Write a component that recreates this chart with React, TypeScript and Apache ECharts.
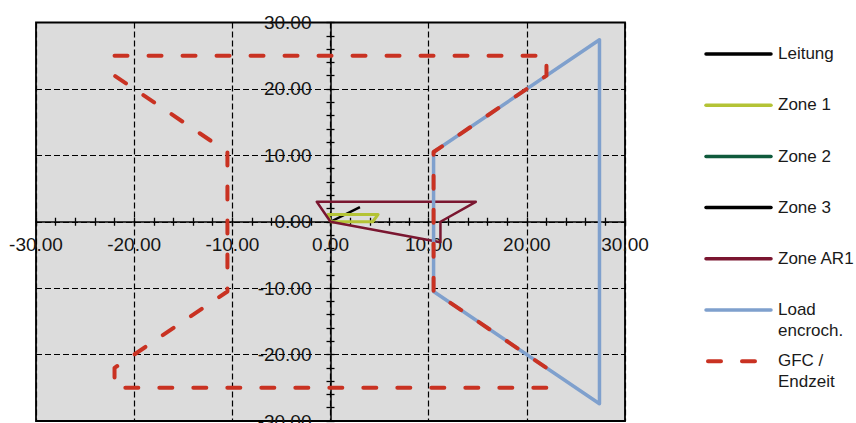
import React, { useEffect, useRef } from "react";
import * as echarts from "echarts";

// ---- data ----
const axisMin = -30;
const axisMax = 30;
const axisInterval = 10;

const leitung: number[][] = [[0, 0], [3.0, 2.2]];
const zone1: number[][] = [[0, 0], [-0.25, 1.1], [4.85, 1.1], [4.3, 0], [0, 0]];
const zone2: number[][] = [];
const zone3: number[][] = [];
const zoneAR1: number[][] = [[0, 0], [-1.4, 3], [14.8, 3], [11.2, 0], [11.2, -3.1], [0, 0]];
const loadEncroch: number[][] = [[10.5, 10.5], [27.4, 27.4], [27.4, -27.4], [10.5, -10.5], [10.5, 10.5]];
const gfcEndzeit: number[][] = [
  [-22, 25], [22, 25], [22, 22], [10.5, 10.5], [10.5, -10.5], [22, -22], [22, -25],
  [-22, -25], [-22, -22], [-10.5, -10.5], [-10.5, 10.5], [-22, 22], [-22, 25],
];

const seriesNames = ["Leitung", "Zone 1", "Zone 2", "Zone 3", "Zone AR1", "Load encroch.", "GFC / Endzeit"];
const legendLabels = ["Leitung", "Zone 1", "Zone 2", "Zone 3", "Zone AR1", "Load\nencroch.", "GFC /\nEndzeit"];
const seriesColors = ["#000000", "#b4c336", "#0f5a3c", "#000000", "#7a1630", "#7fa0cd", "#c93222"];

const FONT = "'Liberation Sans', Arial, sans-serif";

const GRID_LEFT = 36;
const GRID_TOP = 22.5;
const GRID_W = 589;
const GRID_H = 398.5;

export default function App() {
  const ref = useRef<HTMLDivElement>(null);

  useEffect(() => {
    if (!ref.current) return;
    const chart = echarts.init(ref.current, undefined, { renderer: "svg" });

    const datasets = [leitung, zone1, zone2, zone3, zoneAR1, loadEncroch, gfcEndzeit];
    const widths = [2.5, 3, 3, 2.5, 2.5, 3.5, 4];

    const series = datasets.map((d, i) => ({
      name: seriesNames[i],
      type: "line" as const,
      xAxisIndex: 0,
      yAxisIndex: 0,
      data: d,
      showSymbol: false,
      symbol: "none",
      lineStyle:
        i === 6
          ? { color: seriesColors[i], width: widths[i], type: [13, 21], cap: "round", join: "round" }
          : { color: seriesColors[i], width: widths[i], join: "round" },
      z: 2 + i,
    }));

    // legend drawn as graphic (icon aligned with first text line)
    const legendX1 = 706;
    const legendX2 = 771;
    const legendTextX = 778;
    const legendY0 = 54;
    const legendStep = 51.2;
    const legendGraphics: any[] = [];
    legendLabels.forEach((lbl, i) => {
      const y = legendY0 + i * legendStep;
      if (i === 6) {
        legendGraphics.push({
          type: "line",
          shape: { x1: legendX1 + 2, y1: y, x2: 755, y2: y },
          style: { stroke: seriesColors[i], lineWidth: 4, lineDash: [13, 21], lineCap: "round" },
        });
      } else {
        legendGraphics.push({
          type: "line",
          shape: { x1: legendX1, y1: y, x2: legendX2, y2: y },
          style: { stroke: seriesColors[i], lineWidth: 3.5, lineCap: "round" },
        });
      }
      legendGraphics.push({
        type: "text",
        x: legendTextX,
        y: y - 10.5,
        style: {
          text: lbl,
          font: `17px ${FONT}`,
          fill: "#1a1a1a",
          verticalAlign: "top",
          align: "left",
          lineHeight: 20.5,
        },
      });
    });

    const labelFmt = (v: number) => v.toFixed(2);

    // axes placed through the origin with an offset from the grid edge
    const offsetFor = (dim: "x" | "y") => (dim === "x" ? -GRID_H / 2 : -GRID_W / 2);

    const mainAxis = (dim: "x" | "y") => ({
      type: "value" as const,
      min: axisMin,
      max: axisMax,
      interval: axisInterval,
      position: dim === "x" ? "bottom" : "left",
      offset: offsetFor(dim),
      axisLine: { show: true, onZero: false, lineStyle: { color: "#000", width: 1.5 } },
      axisTick: { show: true, length: 4, lineStyle: { color: "#000", width: 1.3 } },
      minorTick: { show: true, splitNumber: 5, length: 4, lineStyle: { color: "#000", width: 1.3 } },
      axisLabel: {
        show: true,
        formatter: labelFmt,
        fontSize: 19,
        fontFamily: FONT,
        color: "#151515",
        margin: dim === "x" ? 13 : 19,
      },
      splitLine: { show: true, lineStyle: { color: "#000", width: 1.2, type: [6, 3] } },
    });

    const innerAxis = (dim: "x" | "y") => ({
      type: "value" as const,
      min: axisMin,
      max: axisMax,
      interval: axisInterval,
      position: dim === "x" ? "bottom" : "left",
      offset: offsetFor(dim),
      axisLine: { show: false, onZero: false },
      axisTick: { show: true, inside: true, length: 4, lineStyle: { color: "#000", width: 1.3 } },
      minorTick: { show: true, splitNumber: 5, length: 4, lineStyle: { color: "#000", width: 1.3 } },
      axisLabel: { show: false },
      splitLine: { show: false },
    });

    chart.setOption({
      animation: false,
      textStyle: { fontFamily: FONT },
      legend: { show: false },
      grid: {
        left: GRID_LEFT,
        top: GRID_TOP,
        width: GRID_W,
        height: GRID_H,
        show: true,
        backgroundColor: "#dcdcdc",
        borderColor: "#000",
        borderWidth: 1.8,
        containLabel: false,
        outerBoundsMode: "none",
      },
      xAxis: [mainAxis("x"), innerAxis("x")],
      yAxis: [mainAxis("y"), innerAxis("y")],
      series,
      graphic: legendGraphics,
    });

    return () => {
      chart.dispose();
    };
  }, []);

  return (
    <div
      ref={ref}
      style={{ position: "fixed", left: 0, top: 0, width: 856, height: 423, background: "#fff" }}
    />
  );
}
